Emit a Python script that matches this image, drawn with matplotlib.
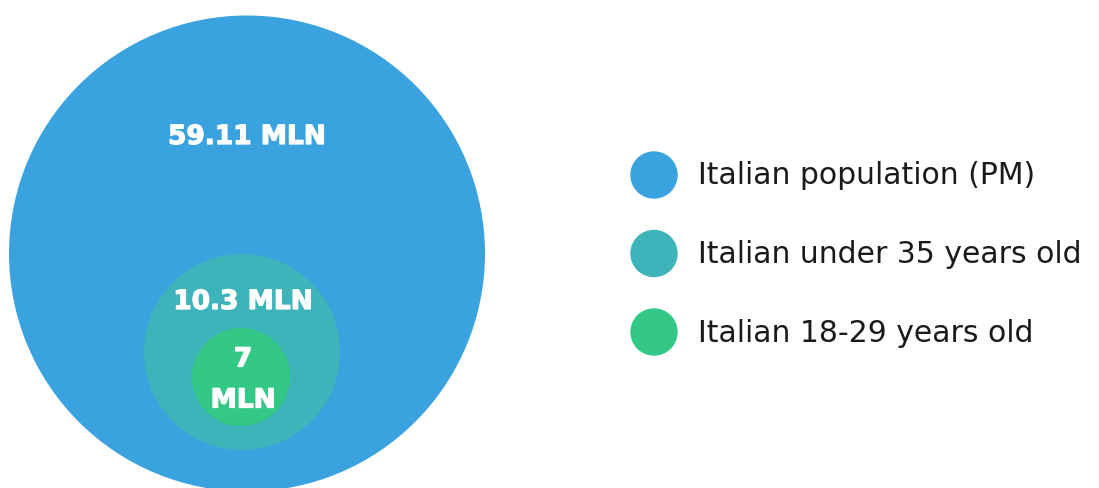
import matplotlib
matplotlib.use("Agg")
import matplotlib.pyplot as plt
import matplotlib.patches as patches
import matplotlib.patheffects as pe

# data
labels = ["Italian population (PM)", "Italian under 35 years old", "Italian 18-29 years old"]
values = [59.11, 10.3, 7]
value_text = ["59.11 MLN", "10.3 MLN", "7\nMLN"]
colors = ["#3AA2DE", "#3DB3BA", "#34C886"]

# layout in pixel units (y grows downward)
centers = [(247, 254.5), (242, 353), (241, 378)]
radii = [238, 98, 49]
text_pos = [(247, 138), (243, 303), (243, 381)]

fig = plt.figure(figsize=(10.99, 4.89), dpi=100)
ax = fig.add_axes([0, 0, 1, 1])
ax.set_xlim(0, 1099)
ax.set_ylim(489, 0)
ax.set_aspect("equal")
ax.axis("off")

for i in range(len(values)):
    c = patches.Circle(centers[i], radii[i], facecolor=colors[i], edgecolor="none", zorder=i + 1)
    ax.add_patch(c)

for i in range(len(values)):
    ax.text(text_pos[i][0], text_pos[i][1], value_text[i], ha="center", va="center",
            color="white", fontsize=19, fontweight="bold", family="DejaVu Sans",
            linespacing=1.75, zorder=10,
            path_effects=[pe.withStroke(linewidth=0.9, foreground="white")])

leg_y = [176, 254.5, 333]
for i in range(len(labels)):
    ax.add_patch(patches.Circle((654, leg_y[i]), 23.7, facecolor=colors[i], edgecolor="none"))
    ax.text(698, leg_y[i], labels[i], ha="left", va="center", color="#1a1a1a",
            fontsize=21.5, family="DejaVu Sans")

fig.savefig("out.png", dpi=100)
